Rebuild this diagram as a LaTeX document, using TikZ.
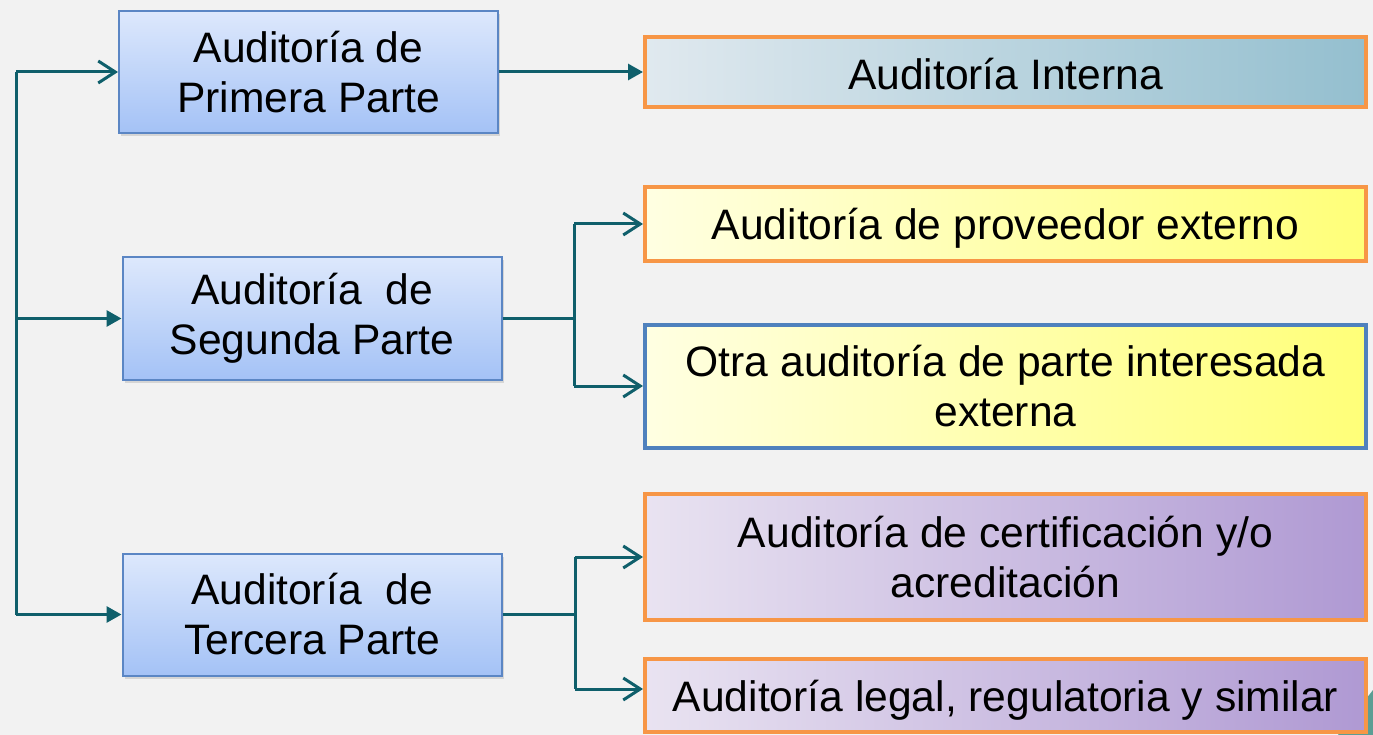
\documentclass[tikz,border=0pt]{standalone}
\usepackage{fontspec}
\setmainfont{Liberation Sans}
\usetikzlibrary{arrows.meta,shadows,calc}
\definecolor{bg}{HTML}{F2F2F2}
\definecolor{conn}{HTML}{0F5F6B}
\definecolor{bluetop}{HTML}{DDE8FC}
\definecolor{bluebot}{HTML}{A4C2F6}
\definecolor{blueborder}{HTML}{5B86C4}
\definecolor{orangeb}{HTML}{F79646}
\definecolor{r3border}{HTML}{4F81BD}
\definecolor{grayL}{HTML}{E0E9EF}
\definecolor{grayR}{HTML}{94BFCF}
\definecolor{yelL}{HTML}{FFFFE2}
\definecolor{yelR}{HTML}{FFFF78}
\definecolor{purL}{HTML}{E9E3F1}
\definecolor{purR}{HTML}{AF99D3}
\definecolor{tealc}{HTML}{5B9E94}
\tikzset{
  txt/.style={font=\fontsize{42.6}{50}\selectfont, align=center, text=black, inner sep=0pt},
  leftbox/.style={txt, draw=blueborder, line width=2pt, top color=bluetop, bottom color=bluebot,
    minimum width=379pt, minimum height=122pt,
    drop shadow={opacity=0.25, shadow xshift=2pt, shadow yshift=-3pt}},
  rightbox/.style={txt, draw=orangeb, line width=4pt, minimum width=721pt},
  oneline/.style={text depth=0pt},
  conn/.style={draw=conn, line width=3pt},
  openarr/.style={conn, -{Straight Barb[length=17pt, width=22pt, line width=3pt]}},
  filledarr/.style={conn, -{Triangle[length=15pt, width=16pt]}},
}
\begin{document}
\begin{tikzpicture}[x=1pt, y=-1pt]
\fill[bg] (0,0) rectangle (1373,735);
\useasboundingbox (0,0) rectangle (1373,735);
% teal corner decoration
\fill[tealc] (1373,690) -- (1373,735) -- (1338,735) -- cycle;

% left boxes
\node[leftbox] (p1) at (308.5,72) {Auditoría de\\Primera Parte};
\node[leftbox] (p2) at (312,318.5) {Auditoría\ \ de\\Segunda Parte};
\node[leftbox] (p3) at (312,614.5) {Auditoría\ \ de\\Tercera Parte};

% right boxes
\node[rightbox, minimum height=70pt, left color=grayL, right color=grayR] (r1) at (1005.5,72) {\raisebox{-2pt}[\height][\depth]{Auditoría Interna}};
\node[rightbox, oneline, minimum height=74pt, left color=yelL, right color=yelR] (r2) at (1005.5,224) {Auditoría de proveedor externo};
\node[rightbox, draw=r3border, minimum height=123pt, left color=yelL, right color=yelR] (r3) at (1005.5,386.5) {Otra auditoría de parte interesada\\externa};
\node[rightbox, minimum height=126pt, left color=purL, right color=purR] (r4) at (1005.5,557) {Auditoría de certificación y/o\\acreditación};
\node[rightbox, oneline, minimum height=73pt, left color=purL, right color=purR] (r5) at (1005.5,695.5) {Auditoría legal, regulatoria y similar};

% left bus
\coordinate (bt) at (16,72);
\coordinate (bb) at (16,614.5);
\draw[conn] (bt) -- (bb);
\draw[openarr] (bt) -- (p1.west);
\draw[filledarr] (bt |- p2.west) -- (p2.west);
\draw[filledarr] (bb) -- (p3.west);

% first party
\draw[filledarr] (p1.east) -- (r1.west);

% second party
\coordinate (s2t) at (574,224);
\coordinate (s2b) at (574,386);
\draw[conn] (p2.east) -- (p2.east -| s2t);
\draw[conn] (s2t) -- (s2b);
\draw[openarr] (s2t) -- (r2.west);
\draw[openarr] (s2b) -- (s2b -| r3.west);

% third party
\coordinate (s3t) at (575,557);
\coordinate (s3b) at (575,689);
\draw[conn] (p3.east) -- (p3.east -| s3t);
\draw[conn] (s3t) -- (s3b);
\draw[openarr] (s3t) -- (r4.west);
\draw[openarr] (s3b) -- (s3b -| r5.west);
\end{tikzpicture}
\end{document}
